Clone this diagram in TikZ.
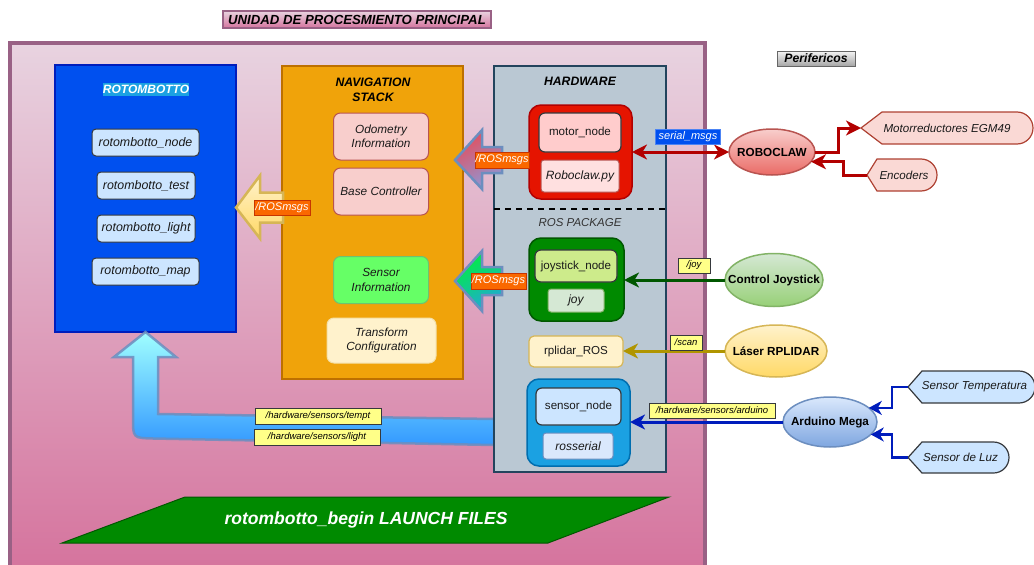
\documentclass[tikz,border=0pt]{standalone}
\usepackage{fontspec}
\setmainfont{Liberation Sans}
\usetikzlibrary{arrows.meta,shapes.geometric,calc}
\definecolor{mauve}{HTML}{996185}
\definecolor{pinktop}{HTML}{E8D3E0}
\definecolor{pinkbot}{HTML}{D5739D}
\definecolor{royal}{HTML}{0050EF}
\definecolor{royald}{HTML}{001DBC}
\definecolor{cyanb}{HTML}{1BA1E2}
\definecolor{cyand}{HTML}{006EAF}
\definecolor{lblue}{HTML}{CCE5FF}
\definecolor{dgray}{HTML}{36393D}
\definecolor{orng}{HTML}{F0A30A}
\definecolor{orngd}{HTML}{BD7000}
\definecolor{rosef}{HTML}{F8CECC}
\definecolor{rosed}{HTML}{B85450}
\definecolor{rosebot}{HTML}{EA6B66}
\definecolor{sgreen}{HTML}{66FF66}
\definecolor{sgreend}{HTML}{6FC26F}
\definecolor{cream}{HTML}{FFF2CC}
\definecolor{creamd}{HTML}{D6B656}
\definecolor{slate}{HTML}{BAC8D3}
\definecolor{slated}{HTML}{23445D}
\definecolor{redf}{HTML}{E51400}
\definecolor{redd}{HTML}{B20000}
\definecolor{pinkl}{HTML}{FFCCCC}
\definecolor{grn}{HTML}{008A00}
\definecolor{grnd}{HTML}{005700}
\definecolor{lime}{HTML}{CDEB8B}
\definecolor{mint}{HTML}{D5E8D4}
\definecolor{mintd}{HTML}{82B366}
\definecolor{pale}{HTML}{DAE8FC}
\definecolor{paled}{HTML}{6C8EBF}
\definecolor{yel}{HTML}{FFFF88}
\definecolor{ora}{HTML}{FA6800}
\definecolor{orad}{HTML}{C73500}
\definecolor{salm}{HTML}{FAD9D5}
\definecolor{salmd}{HTML}{AE4132}
\definecolor{gold}{HTML}{B09500}
\definecolor{lyel}{HTML}{FFD966}
\definecolor{lgr}{HTML}{97D077}
\definecolor{mblue}{HTML}{7EA6E0}
\definecolor{txt}{HTML}{1A1A1A}
\definecolor{arrred}{HTML}{E64D5A}
\definecolor{arrblue}{HTML}{8F97D6}
\definecolor{arrgrn}{HTML}{00F03C}
\definecolor{arrcyan}{HTML}{20A8D8}
\definecolor{cyantop}{HTML}{A0FFFF}
\definecolor{bluebot}{HTML}{3399FF}
\newcommand{\dispbox}[4]{%
  \path[#4] (#1.west) -- ([xshift=#2]#1.north west) -- ([xshift=-#3]#1.north east)
    arc[start angle=90,end angle=-90,radius=#3] -- ([xshift=#2]#1.south west) -- cycle;}
\begin{document}
\begin{tikzpicture}[x=1pt,y=-1pt,
  every node/.style={inner sep=0pt,outer sep=0pt,align=center,text=txt},
  sz/.style 2 args={minimum width=#1pt,minimum height=#2pt},
  tfi/.style={font=\fontsize{#1}{14.5}\selectfont\itshape},
  tfb/.style={font=\fontsize{#1}{15}\selectfont\bfseries},
  tfbi/.style={font=\fontsize{#1}{15}\selectfont\bfseries\itshape},
  tfr/.style={font=\fontsize{#1}{14.5}\selectfont},
  rbox/.style={draw=dgray,line width=1pt,rounded corners=4pt,fill=lblue,tfi=12.4},
  navin/.style={rounded corners=7pt,line width=1pt,tfi=11.8},
  lbl/.style={draw=dgray,fill=yel,line width=0.8pt,tfi=9.5,text=black},
  ros/.style={draw=orad,fill=ora,line width=0.8pt,text=white,tfi=11},
  grp/.style={rounded corners=12pt,line width=1.5pt},
  ellbox/.style={ellipse,line width=1.5pt},
  salmst/.style={fill=salm,draw=salmd,line width=1.2pt},
  bluest/.style={fill=lblue,draw=dgray,line width=1.2pt},
  tipbig/.tip={Stealth[length=15pt,width=15pt,inset=4.5pt]},
  tipsmall/.tip={Stealth[length=13pt,width=14pt,inset=4pt]},
  conn/.style={line width=3pt,-tipbig},
  connb/.style={line width=2.5pt,-tipsmall},
  blockarr/.style={line width=2.5pt,line join=miter}
]
\useasboundingbox (0,0) rectangle (1034,565);
\clip (0,0) rectangle (1034,565);

% main container
\node[draw=mauve,line width=4pt,top color=pinktop,bottom color=pinkbot,sz={695}{530}] (main) at (357,308) {};
\node[draw=mauve,line width=1.2pt,top color=pinktop,bottom color=pinkbot,sz={268}{17},tfbi=13.2,text=black] (title) at (357,19.5) {UNIDAD DE PROCESMIENTO PRINCIPAL};

% ROTOMBOTTO
\node[draw=royald,fill=royal,line width=1.2pt,sz={181}{267}] (rotbox) at (145.5,198.5) {};
\node[fill=cyanb,text=white,tfbi=12,inner xsep=0pt,inner ysep=2pt] (rottitle) at (146,89.5) {ROTOMBOTTO};
\node[rbox,sz={107}{27}] (rn1) at (145.5,142.5) {rotombotto\_node};
\node[rbox,sz={98}{27}] (rn2) at (146,185.5) {rotombotto\_test};
\node[rbox,sz={98}{27}] (rn3) at (146,228.5) {rotombotto\_light};
\node[rbox,sz={107}{27}] (rn4) at (145.5,271.5) {rotombotto\_map};

% NAVIGATION STACK
\node[draw=orngd,fill=orng,line width=1.2pt,sz={181}{313}] (navbox) at (372.5,222.5) {};
\node[tfbi=12.2,text=black] (navtitle) at (373,89.5) {NAVIGATION\\STACK};
\node[navin,fill=rosef,draw=rosed,sz={95}{47}] (odo) at (381,136.5) {Odometry\\Information};
\node[navin,fill=rosef,draw=rosed,sz={95}{47}] (basec) at (381,191.5) {Base Controller};
\node[navin,fill=sgreen,draw=sgreend,sz={95}{47}] (sensinfo) at (381,280) {Sensor\\Information};
\node[navin,fill=cream,draw=cream!70!creamd,sz={109}{45}] (tfconf) at (381.5,340.5) {Transform\\Configuration};

% big L-shaped block arrow (sensors -> rotombotto)
\path[blockarr,draw=paled,draw opacity=0.85,top color=cyantop,bottom color=bluebot]
  (494,419) -- (158,414) -- (158,357) -- (176,357) -- (rotbox.south) -- (114,357) -- (133,357)
  -- (133,418) .. controls (133,438) .. (153,438.5) -- (494,445) -- cycle;

% HARDWARE
\node[draw=slated,fill=slate,line width=1.2pt,sz={172}{406}] (hwbox) at (580,269) {};
\node[tfbi=12.2,text=black] (hwtitle) at (580,81) {HARDWARE};
\coordinate (dashend) at (669,209);
\draw[line width=2pt,dash pattern=on 6pt off 5pt] (hwbox.west |- dashend) -- (dashend);
\node[tfi=11.5,text=black!80] (rospkg) at (580,222.5) {ROS PACKAGE};

% rows of the block arrows
\coordinate (rowA) at (282,207.5);
\coordinate (rowB) at (502,160);
\coordinate (rowC) at (498.5,281);

% yellow block arrow (navigation -> rotombotto)
\path[blockarr,draw=creamd,top color=cream,bottom color=lyel]
  (rotbox.east |- rowA) -- ++(24,-32) -- ++(0,17) -- ++(23,0) -- ++(0,30) -- ++(-23,0) -- ++(0,16) -- cycle;
% red block arrow (hardware -> navigation)
\path[blockarr,draw=paled,top color=arrred,bottom color=arrblue,shading angle=30]
  ($(navbox.east |- rowB)+(-8,0)$) -- ++(27,-30) -- ++(0,17) -- ++(20,0) -- ++(0,26) -- ++(-20,0) -- ++(0,16) -- cycle;
% green block arrow (ros package -> navigation)
\path[blockarr,draw=paled,top color=arrgrn,bottom color=arrcyan,shading angle=30]
  ($(navbox.east |- rowC)+(-8,0)$) -- ++(27,-30) -- ++(0,16) -- ++(20,0) -- ++(0,28) -- ++(-20,0) -- ++(0,16) -- cycle;

% hardware groups
\node[grp,fill=redf,draw=redd,sz={103}{94}] (motorgrp) at (580.5,152) {};
\node[draw=dgray,fill=pinkl,line width=1.2pt,rounded corners=6pt,sz={82}{39},tfr=11.6] (motornode) at (580,132.5) {motor\_node};
\node[draw=rosed,fill=pinkl!60!white,line width=1pt,rounded corners=3pt,sz={78}{32},tfi=12] (roboclawpy) at (580,176) {Roboclaw.py};

\node[grp,fill=grn,draw=grnd,sz={95}{83}] (joygrp) at (576.5,279.5) {};
\node[draw=dgray,fill=lime,line width=1.2pt,rounded corners=6pt,sz={82}{32},tfr=11.6] (joynode) at (576,266) {joystick\_node};
\node[draw=mintd,fill=mint,line width=1pt,rounded corners=3pt,sz={56}{23},tfi=12] (joy) at (576,300.5) {joy};

\node[draw=creamd,fill=cream,line width=1.2pt,rounded corners=5pt,sz={94}{31},tfr=11.6] (rplidar) at (576,351.5) {rplidar\_ROS};

\node[grp,fill=cyanb,draw=cyand,sz={103}{87}] (sensgrp) at (578.5,422.5) {};
\node[draw=dgray,fill=lblue,line width=1.2pt,rounded corners=6pt,sz={85}{37},tfr=11.6] (sensnode) at (578.5,406.5) {sensor\_node};
\node[draw=paled,fill=pale,line width=1pt,rounded corners=3pt,sz={70}{26},tfi=12] (rosserial) at (578,446) {rosserial};

% /ROSmsgs labels
\node[ros,sz={56}{15}] (rosA) at (rowA) {/ROSmsgs};
\node[ros,sz={54}{16}] (rosB) at (rowB) {/ROSmsgs};
\node[ros,sz={55}{16}] (rosC) at (rowC) {/ROSmsgs};

% sensor topic labels on the L arrow
\node[lbl,sz={126}{16}] (templbl) at (318,416) {/hardware/sensors/tempt};
\node[lbl,sz={126}{16}] (lightlbl) at (317,437) {/hardware/sensors/light};

% Perifericos
\node[draw=black!60,top color=black!4,bottom color=black!35,line width=1pt,sz={78}{15},tfbi=12.2,text=black] (perif) at (816,58.5) {Perifericos};

% peripheral ellipses
\node[ellbox,draw=rosed,top color=rosef,bottom color=rosebot,sz={86}{46}] (robo) at (772,152) {};
\node[tfb=11.7,text=black] at (robo) {ROBOCLAW};
\node[ellbox,draw=mintd,top color=mint,bottom color=lgr,sz={98}{53}] (cj) at (774,280) {};
\node[tfb=11.7,text=black] at (cj) {Control Joystick};
\node[ellbox,draw=creamd,top color=cream,bottom color=lyel,sz={102}{52}] (laser) at (776,351) {};
\node[tfb=11.7,text=black] at (laser) {Láser RPLIDAR};
\node[ellbox,draw=paled,top color=pale,bottom color=mblue,sz={94}{50}] (ard) at (830,422) {};
\node[tfb=11.7,text=black] at (ard) {Arduino Mega};

% display shapes
\node[sz={172}{32}] (motorred) at (947,128) {};
\dispbox{motorred}{21pt}{16pt}{salmst}
\node[tfi=11.6] at (motorred) {Motorreductores EGM49};
\node[sz={70}{32}] (enc) at (902,175) {};
\dispbox{enc}{10pt}{16pt}{salmst}
\node[tfi=11.6] at ([xshift=2pt]enc.center) {Encoders};
\node[sz={127}{32}] (tsens) at (971.5,387) {};
\dispbox{tsens}{14pt}{16pt}{bluest}
\node[tfi=11.6] at ([xshift=3pt]tsens.center) {Sensor Temperatura};
\node[sz={101}{31}] (lsens) at (958.5,457.5) {};
\dispbox{lsens}{14pt}{15.5pt}{bluest}
\node[tfi=11.6] at ([xshift=2pt]lsens.center) {Sensor de Luz};

% connectors
\draw[conn,draw=redd,tipbig-tipbig] (motorgrp.east) -- (robo.west);
\draw[conn,draw=redd] (robo.east) -- ++(23,0) |- (motorred.west);
\draw[conn,draw=redd] (enc.west) -- ++(-24,0) |- (robo.-14);
\draw[conn,draw=grnd] (cj.west) -- (cj.west -| joygrp.east);
\draw[conn,draw=gold] (laser.west) -- (laser.west -| rplidar.east);
\draw[conn,draw=royald] (ard.west) -- (ard.west -| sensgrp.east);
\draw[connb,draw=royald] (tsens.west) -- ++(-16,0) |- (ard.20);
\draw[connb,draw=royald] (lsens.west) -- ++(-16,0) |- (ard.-17);

% connector labels
\node[fill=royal,draw=royal!70!white,line width=0.8pt,text=white,tfi=11,sz={65}{15}] (serial) at (688,136.5) {serial\_msgs};
\node[lbl,sz={32}{15}] (joylbl) at (694,265.5) {/joy};
\node[lbl,sz={32}{15}] (scanlbl) at (686,342.5) {/scan};
\node[lbl,sz={126}{15}] (ardlbl) at (712,410.5) {/hardware/sensors/arduino};

% launch files
\path[fill=grn,draw=grnd,line width=1pt] (62,543) -- (185,497) -- (669,497) -- (548,543) -- cycle;
\node[tfbi=17.5,text=white] (launch) at (366,520) {rotombotto\_begin LAUNCH FILES};
\end{tikzpicture}
\end{document}
